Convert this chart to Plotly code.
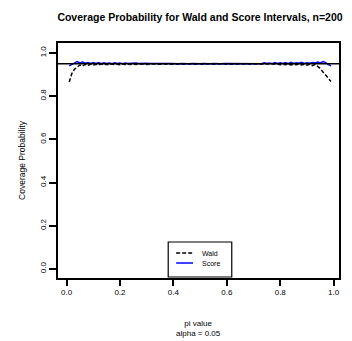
import plotly.graph_objects as go

pi_values = [0.01, 0.02, 0.03, 0.04, 0.05, 0.06, 0.07, 0.08, 0.09, 0.10,
             0.11, 0.12, 0.13, 0.14, 0.15, 0.16, 0.17, 0.18, 0.19, 0.20,
             0.21, 0.22, 0.23, 0.24, 0.25, 0.26, 0.27, 0.28, 0.29, 0.30,
             0.31, 0.32, 0.33, 0.34, 0.35, 0.36, 0.37, 0.38, 0.39, 0.40,
             0.41, 0.42, 0.43, 0.44, 0.45, 0.46, 0.47, 0.48, 0.49, 0.50,
             0.51, 0.52, 0.53, 0.54, 0.55, 0.56, 0.57, 0.58, 0.59, 0.60,
             0.61, 0.62, 0.63, 0.64, 0.65, 0.66, 0.67, 0.68, 0.69, 0.70,
             0.71, 0.72, 0.73, 0.74, 0.75, 0.76, 0.77, 0.78, 0.79, 0.80,
             0.81, 0.82, 0.83, 0.84, 0.85, 0.86, 0.87, 0.88, 0.89, 0.90,
             0.91, 0.92, 0.93, 0.94, 0.95, 0.96, 0.97, 0.98, 0.99]

wald = [0.865, 0.905, 0.925, 0.936, 0.944, 0.939, 0.947, 0.941, 0.948, 0.943,
        0.948, 0.944, 0.949, 0.945, 0.948, 0.944, 0.949, 0.946, 0.948, 0.945,
        0.949, 0.946, 0.948, 0.946, 0.949, 0.947, 0.948, 0.946, 0.949, 0.947,
        0.948, 0.947, 0.949, 0.947, 0.948, 0.948, 0.949, 0.947, 0.948, 0.948,
        0.949, 0.948, 0.948, 0.949, 0.948, 0.949, 0.948, 0.949, 0.948, 0.949,
        0.948, 0.949, 0.948, 0.949, 0.948, 0.949, 0.948, 0.948, 0.949, 0.948,
        0.948, 0.947, 0.949, 0.948, 0.948, 0.947, 0.949, 0.947, 0.948, 0.947,
        0.949, 0.946, 0.948, 0.947, 0.949, 0.946, 0.948, 0.946, 0.949, 0.945,
        0.948, 0.945, 0.949, 0.944, 0.948, 0.945, 0.949, 0.944, 0.948, 0.943,
        0.947, 0.941, 0.946, 0.938, 0.928, 0.912, 0.898, 0.884, 0.868]

score = [0.940, 0.946, 0.955, 0.960, 0.954, 0.958, 0.952, 0.956, 0.951, 0.955,
         0.951, 0.955, 0.950, 0.954, 0.951, 0.953, 0.950, 0.954, 0.951, 0.953,
         0.950, 0.953, 0.951, 0.952, 0.950, 0.953, 0.951, 0.952, 0.950, 0.952,
         0.951, 0.952, 0.950, 0.951, 0.951, 0.952, 0.950, 0.951, 0.951, 0.950,
         0.951, 0.950, 0.951, 0.950, 0.951, 0.950, 0.951, 0.950, 0.951, 0.950,
         0.951, 0.950, 0.951, 0.950, 0.951, 0.950, 0.951, 0.950, 0.951, 0.951,
         0.950, 0.952, 0.951, 0.952, 0.950, 0.953, 0.951, 0.952, 0.950, 0.953,
         0.951, 0.953, 0.950, 0.954, 0.951, 0.953, 0.950, 0.955, 0.951, 0.954,
         0.951, 0.955, 0.950, 0.956, 0.951, 0.955, 0.952, 0.957, 0.951, 0.955,
         0.952, 0.956, 0.953, 0.958, 0.954, 0.960, 0.955, 0.946, 0.941]

series_names = ["Wald", "Score"]
series_colors = ["black", "blue"]
series_dash = ["4px,2px", "solid"]

nominal = 0.95
x_ticks = [0.0, 0.2, 0.4, 0.6, 0.8, 1.0]
x_tick_labels = ["0.0", "0.2", "0.4", "0.6", "0.8", "1.0"]
y_ticks = [0.0, 0.2, 0.4, 0.6, 0.8, 1.0]
y_tick_labels = ["0.0", "0.2", "0.4", "0.6", "0.8", "1.0"]

FONT = "Liberation Sans, Arial, sans-serif"
W, H = 352, 341
L, R, T, B = 58, 11, 43, 63
PW, PH = W - L - R, H - T - B


def px_x(px):
    return (px - L) / PW


def px_y(py):
    return (T + PH - py) / PH


fig = go.Figure()
for name, ys, col, dash in zip(series_names, [wald, score], series_colors, series_dash):
    fig.add_trace(go.Scatter(x=pi_values, y=ys, mode="lines", name=name,
                             showlegend=False,
                             line=dict(color=col, width=1.5, dash=dash)))
fig.add_hline(y=nominal, line=dict(color="black", width=1.5))

# legend box (R-style, bottom centre)
fig.add_shape(type="rect", xref="paper", yref="paper",
              x0=px_x(169), x1=px_x(233), y0=px_y(277), y1=px_y(242),
              line=dict(color="black", width=1.2), fillcolor="white", layer="above")
for i, (name, col, dash) in enumerate(zip(series_names, series_colors, series_dash)):
    yy = px_y(253 + 10 * i)
    fig.add_shape(type="line", xref="paper", yref="paper",
                  x0=px_x(177), x1=px_x(194), y0=yy, y1=yy,
                  line=dict(color=col, width=1.5, dash=dash), layer="above")
    fig.add_annotation(text=name, xref="paper", yref="paper", x=px_x(201), y=yy,
                       xanchor="left", yanchor="middle", showarrow=False,
                       font=dict(family=FONT, size=7, color="black"))

fig.update_layout(
    width=W, height=H,
    margin=dict(l=L, r=R, t=T, b=B, pad=0),
    paper_bgcolor="white", plot_bgcolor="white",
    font=dict(family=FONT, size=8, color="black"),
    title=dict(text="<b>Coverage Probability for Wald and Score Intervals, n=200</b>",
               x=200 / W, xanchor="center", y=1 - 17 / H, yanchor="middle",
               font=dict(family=FONT, size=10.5, color="black")),
    showlegend=False,
    xaxis=dict(range=[-0.032, 1.02], tickvals=x_ticks, ticktext=x_tick_labels,
               showgrid=False, zeroline=False, showline=True, mirror=True,
               linecolor="black", linewidth=1.5, ticks="outside", ticklen=6,
               tickwidth=1.5, tickcolor="black",
               tickfont=dict(family=FONT, size=8)),
    yaxis=dict(range=[-0.042, 1.046], tickvals=y_ticks, ticktext=y_tick_labels,
               showgrid=False, zeroline=False, showline=True, mirror=True,
               linecolor="black", linewidth=1.5, ticks="outside", ticklen=7,
               tickwidth=1.5, tickcolor="black", tickangle=-90,
               tickfont=dict(family=FONT, size=8),
               title=dict(text="Coverage Probability", standoff=12,
                          font=dict(family=FONT, size=8.5))),
)

fig.add_annotation(text="pi value<br>alpha = 0.05",
                   x=px_x(200), y=px_y(328),
                   xref="paper", yref="paper", xanchor="center", yanchor="middle",
                   showarrow=False, font=dict(family=FONT, size=8), align="center")

fig.write_html("out.html",
               config={"displayModeBar": False},
               post_script="document.body.style.margin='0';"
                           "document.body.style.overflow='hidden';")
